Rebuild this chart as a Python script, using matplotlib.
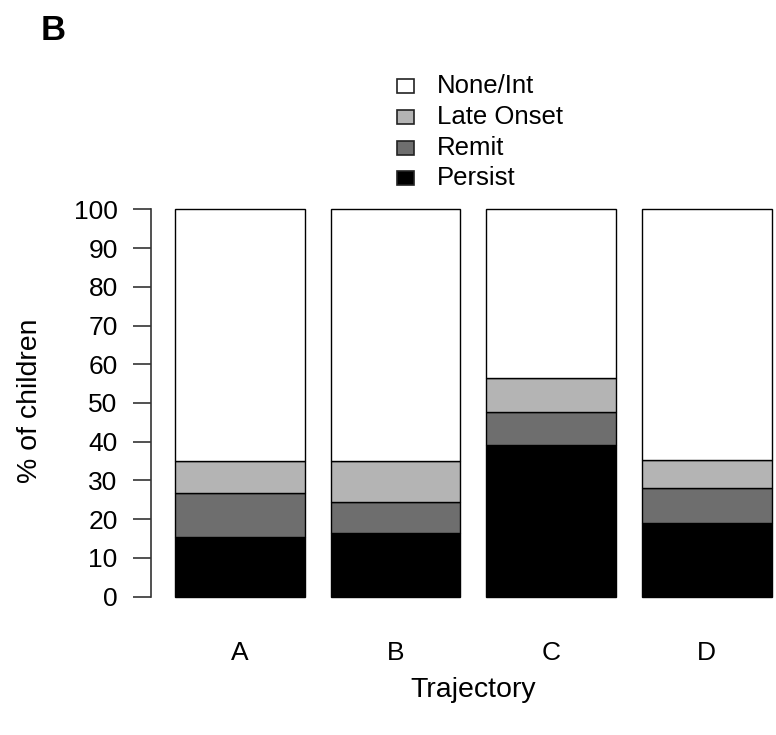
import numpy as np
import matplotlib.pyplot as plt

plt.rcParams['font.family'] = ['Liberation Sans', 'DejaVu Sans']
plt.rcParams['font.size'] = 19

# data (percent of children)
trajectory = ['A', 'B', 'C', 'D']
persist = [15.5, 16.4, 39.2, 18.9]
remit = [11.2, 7.9, 8.6, 9.2]
late_onset = [8.4, 10.8, 8.6, 7.2]
categories = ['None/Int', 'Late Onset', 'Remit', 'Persist']
colors = ['#ffffff', '#b4b4b4', '#6e6e6e', '#000000']

persist = np.array(persist)
remit = np.array(remit)
late_onset = np.array(late_onset)
none_int = 100 - persist - remit - late_onset

fig = plt.figure(figsize=(7.76, 7.35), dpi=100)
W, H = 776, 735
ax = fig.add_axes([151 / W, 1 - 612 / H, (776 - 151) / W, (612 - 194) / H])

# R-style barplot positions: width 1, space 0.2
x = 0.7 + 1.2 * np.arange(len(trajectory))
bottom = np.zeros(len(trajectory))
for vals, col in zip([persist, remit, late_onset, none_int],
                     [colors[3], colors[2], colors[1], colors[0]]):
    ax.bar(x, vals, width=1.0, bottom=bottom, color=col,
           edgecolor='black', linewidth=1.0)
    bottom += vals

ax.set_xlim(0.016, 4.834)
ax.set_ylim(-4, 104)
ax.set_yticks(np.arange(0, 101, 10))
ax.tick_params(axis='y', length=13, width=1.2, pad=11, labelsize=19)
ax.set_xticks(x)
ax.set_xticklabels(trajectory)
ax.tick_params(axis='x', length=0, pad=21, labelsize=19)
for s in ['top', 'right', 'bottom']:
    ax.spines[s].set_visible(False)
ax.spines['left'].set_bounds(0, 100)
ax.spines['left'].set_linewidth(1.2)
ax.spines['left'].set_color('#333333')
ax.tick_params(axis='y', color='#333333')

fig.text(473 / W, 1 - 690 / H, 'Trajectory', ha='center', va='center', fontsize=20.5)
fig.text(30 / W, 1 - 401 / H, '% of children', ha='center', va='center',
         rotation=90, fontsize=20.5)
fig.text(41 / W, 1 - 30 / H, 'B', ha='left', va='center', fontsize=25,
         fontweight='bold')

# legend drawn as in R, no frame
ys = [86, 117, 148, 178]
for lab, col, yy in zip(categories, colors, ys):
    fig.patches.append(plt.Rectangle((397 / W, 1 - (yy + 7) / H), 17 / W, 14 / H,
                                     transform=fig.transFigure, facecolor=col,
                                     edgecolor='#222222', linewidth=1.2))
    fig.text(437 / W, 1 - yy / H, lab, ha='left', va='center', fontsize=18.5)

plt.savefig('out.png', dpi=100)
